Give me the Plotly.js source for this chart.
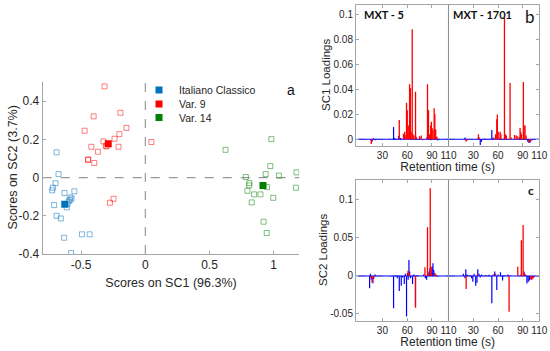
<!DOCTYPE html>
<html>
<head>
<meta charset="utf-8">
<script src="https://cdn.plot.ly/plotly-3.0.1.min.js"></script>
<style>html,body{margin:0;padding:0;background:#fff}#chart{width:550px;height:351px}</style>
</head>
<body>
<div id="chart"></div>
<script>
// ---------- Panel a: scores ----------
const groupNames = ['Italiano Classico', 'Var. 9', 'Var. 14'];
const icSC1 = [-0.692,-0.677,-0.700,-0.721,-0.726,-0.630,-0.553,-0.584,-0.589,-0.607,-0.612,-0.711,-0.692,-0.659,-0.633,-0.494,-0.434,-0.579,-0.598,-0.575];
const icSC2 = [0.132,0.018,-0.030,-0.053,-0.067,-0.081,-0.072,-0.104,-0.118,-0.139,-0.156,-0.144,-0.200,-0.214,-0.315,-0.297,-0.297,-0.395,-0.125,-0.110];
const v9SC1 = [-0.318,-0.403,-0.194,-0.473,-0.147,-0.202,-0.240,-0.326,-0.421,-0.370,-0.302,-0.209,-0.444,-0.447,-0.398,-0.248,-0.276,0.047,-0.308];
const v9SC2 = [0.477,0.320,0.339,0.245,0.260,0.227,0.203,0.189,0.161,0.135,0.163,0.161,0.095,0.092,0.076,-0.111,-0.132,0.186,0.166];
const v14SC1 = [0.982,0.625,0.974,0.938,1.041,1.178,0.783,0.811,0.809,0.948,1.173,0.796,0.848,0.897,0.829,0.997,0.922,0.946];
const v14SC2 = [0.201,0.145,0.060,0.018,0.010,0.027,0.003,-0.029,-0.041,-0.050,-0.053,-0.069,-0.088,-0.088,-0.130,-0.106,-0.231,-0.290];
const centroidSC1 = [-0.628, -0.289, 0.917];
const centroidSC2 = [-0.140, 0.177, -0.041];
const scoreXTicks = [-0.5, 0, 0.5, 1];
const scoreXLabels = ['-0.5', '0', '0.5', '1'];
const scoreYTicks = [-0.4, -0.2, 0, 0.2, 0.4];
const scoreYLabels = ['-0.4', '-0.2', '0', '0.2', '0.4'];

// ---------- Panels b, c: loadings (retention time s, loading) ----------
const columns = ['MXT - 5', 'MXT - 1701'];
const columnWindow = [0, 110];
// SC1, MXT-5
const sc1Mxt5BlueT = [16,17.5,19,21,38.5,43.5,45,49.8,52,57,61.5,75,84,88.5,95,97,99];
const sc1Mxt5BlueV = [-0.001,-0.002,0.0008,-0.0008,0.0005,0.0098,0.001,0.0028,0.001,0.0015,0.002,0.001,0.002,-0.0008,0.002,-0.001,0.0005];
const sc1Mxt5RedT = [16.5,18,50.4,55.5,57,58.5,59.2,60.1,61.3,62.9,63.8,64.8,66.1,67,68.2,70.1,71,75,77,79,84.6,85.8,87,88.5,89.3,90.2,91.2,92.7,93.5,94.5,96];
const sc1Mxt5RedV = [-0.0038,-0.001,0.0155,0.0045,0.006,0.0035,0.0292,0.0232,0.011,0.044,0.041,0.006,0.088,0.004,0.003,0.038,0.002,0.0025,0.003,-0.0008,0.044,0.0234,0.004,0.011,0.014,0.009,0.0075,0.0248,0.02,0.008,0.002];
// SC1, MXT-1701
const sc1Mxt1701BlueT = [20,22,36,38.5,40,44,52.5,54,62,70,86,96,97.5,99,101,104];
const sc1Mxt1701BlueV = [0.0015,-0.001,0.0015,-0.0045,-0.002,0.0005,0.0075,0.0015,0.001,0.001,0.0015,-0.002,-0.003,-0.0025,-0.001,0.0005];
const sc1Mxt1701RedT = [21.4,23,36.3,37.2,55,57,58.5,59.2,60.2,62.5,63.5,67.8,69,70,74.6,76,80,82,84,86.7,87.5,88.5,90.7,91.5,92.7,94,98,99.5];
const sc1Mxt1701RedV = [-0.002,-0.0008,0.004,0.0015,0.001,0.004,0.016,0.0198,0.006,0.006,0.0045,0.0973,0.004,0.003,0.045,0.0015,0.0035,0.003,0.0025,0.009,0.006,0.004,0.0458,0.011,0.011,0.003,-0.0025,-0.0015];
// SC2, MXT-5
const sc2Mxt5BlueT = [14.5,15.5,16.5,18.5,19.5,21,40,43.5,46,48,50.4,52.8,54.5,56.5,57.8,59.2,60.3,61.2,62.1,63,64,66.5,68,70,72,80,82,83.5,85,86.5,87.5,89,90.2,91.2,92.2,93.5,95,97];
const sc2Mxt5BlueV = [-0.016,0.003,-0.005,-0.0095,-0.004,0.002,-0.001,-0.0425,0.001,-0.003,-0.0197,-0.013,-0.002,-0.0105,0.003,-0.0535,0.004,-0.005,0.021,0.006,-0.003,-0.0105,0.002,-0.040,0.001,0.002,-0.003,-0.005,0.003,0.006,0.01,0.005,0.012,0.0167,0.008,0.004,0.001,-0.001];
const sc2Mxt5RedT = [16,17.5,18.8,61,62.5,70.1,81.5,84.6,85.5,87.9,89,93,95];
const sc2Mxt5RedV = [-0.002,-0.009,-0.003,0.007,0.004,-0.0417,0.0114,0.064,0.003,0.1154,0.012,0.004,0.002];
// SC2, MXT-1701
const sc2Mxt1701BlueT = [18,20,21,22.5,26,28,29.5,31,33,34.5,35.5,37,38.5,40,45,49,52.5,54,56,58.5,60,63,65.5,67,72,75,88,91.5,93,95,96.5,98,100,102,104];
const sc2Mxt1701BlueV = [0.003,-0.003,0.0088,0.002,0.001,-0.003,-0.0075,0.003,-0.013,-0.009,0.009,0.003,-0.002,0.002,0.001,0.0015,-0.036,0.002,0.006,-0.0184,0.002,0.005,-0.006,0.001,0.002,0.001,0.002,0.006,0.002,-0.01,-0.008,-0.006,-0.005,-0.003,-0.001];
const sc2Mxt1701RedT = [21.4,35,57,73.4,83.9,88.3,90.4,92,99,101,103];
const sc2Mxt1701RedV = [-0.017,0.002,0.003,-0.047,0.0123,0.047,0.067,0.004,-0.004,-0.005,-0.003];

const rtTicks = [30, 60, 90, 110, 140, 170, 200, 220];
const rtLabels = ['30', '60', '90', '110', '30', '60', '90', '110'];
const sc1Ticks = [0, 0.02, 0.04, 0.06, 0.08, 0.1];
const sc1Labels = ['0', '0.02', '0.04', '0.06', '0.08', '0.1'];
const sc2Ticks = [-0.05, 0, 0.05, 0.1];
const sc2Labels = ['-0.05', '0', '0.05', '0.1'];

// ---------- build ----------
const W = 550, H = 351;
const BLUE = '#0000ff', RED = '#ff0000';
const openCol = ['rgba(0,114,189,0.5)', 'rgba(255,0,0,0.5)', 'rgba(0,128,0,0.5)'];
const fillCol = ['#0072BD', '#FF0000', '#008000'];
const scoreSets = [[icSC1, icSC2], [v9SC1, v9SC2], [v14SC1, v14SC2]];
const legendIds = ['legend', 'legend2', 'legend3'];
const legendTops = [75.5, 89.5, 103];

const traces = [];
scoreSets.forEach((s, i) => {
  traces.push({type: 'scatter', mode: 'markers', x: s[0], y: s[1], xaxis: 'x', yaxis: 'y',
    showlegend: false, hoverinfo: 'skip',
    marker: {symbol: 'square-open', size: 5, color: openCol[i], line: {width: 1, color: openCol[i]}}});
});
groupNames.forEach((g, i) => {
  traces.push({type: 'scatter', mode: 'markers', name: g, x: [centroidSC1[i]], y: [centroidSC2[i]],
    xaxis: 'x', yaxis: 'y', legend: legendIds[i],
    marker: {symbol: 'square', size: 7, color: fillCol[i], line: {width: 0}}});
});

function stems(t, v, offset) {
  const x = [], y = [];
  t.forEach((ti, k) => { x.push(ti + offset, ti + offset, null); y.push(0, v[k], null); });
  return {x, y};
}
function loadingTraces(ax, ay, sets) {
  sets.forEach((set, c) => {
    const off = c * columnWindow[1];
    traces.push({type: 'scatter', mode: 'lines', x: [columnWindow[0] + off, columnWindow[1] + off], y: [0, 0],
      xaxis: ax, yaxis: ay, showlegend: false, hoverinfo: 'skip', line: {color: BLUE, width: 1}});
    const b = stems(set[0], set[1], off);
    traces.push({type: 'scatter', mode: 'lines', x: b.x, y: b.y, xaxis: ax, yaxis: ay, showlegend: false,
      hoverinfo: 'skip', connectgaps: false, line: {color: BLUE, width: 1.2}});
  });
  sets.forEach((set, c) => {
    const off = c * columnWindow[1];
    const r = stems(set[2], set[3], off);
    traces.push({type: 'scatter', mode: 'lines', x: r.x, y: r.y, xaxis: ax, yaxis: ay, showlegend: false,
      hoverinfo: 'skip', connectgaps: false, line: {color: RED, width: 1.3}});
  });
}
loadingTraces('x2', 'y2', [
  [sc1Mxt5BlueT, sc1Mxt5BlueV, sc1Mxt5RedT, sc1Mxt5RedV],
  [sc1Mxt1701BlueT, sc1Mxt1701BlueV, sc1Mxt1701RedT, sc1Mxt1701RedV]]);
loadingTraces('x3', 'y3', [
  [sc2Mxt5BlueT, sc2Mxt5BlueV, sc2Mxt5RedT, sc2Mxt5RedV],
  [sc2Mxt1701BlueT, sc2Mxt1701BlueV, sc2Mxt1701RedT, sc2Mxt1701RedV]]);

const LINE = '#a6a6a6', TXT = '#262626';
const FONT = 'Liberation Sans, Arial, sans-serif';
const LFONT = 'Lato, Liberation Sans, sans-serif';
const baseAx = {showgrid: false, zeroline: false, showline: true, linecolor: LINE, linewidth: 1,
  ticks: 'inside', ticklen: 3, tickcolor: LINE, tickmode: 'array', automargin: false, tickangle: 0,
  tickfont: {size: 12, color: TXT, family: FONT}};
const rAx = Object.assign({}, baseAx, {mirror: 'ticks', tickfont: {size: 10, color: TXT, family: FONT}});

function vTitle(text, x, y, size) {
  return {text: text, textangle: -90, xref: 'paper', yref: 'paper', x: x / W, y: 1 - y / H,
    xanchor: 'center', yanchor: 'middle', showarrow: false, font: {size: size, color: TXT, family: FONT}};
}

const layout = {
  width: W, height: H, margin: {l: 0, r: 0, t: 0, b: 0},
  paper_bgcolor: '#fff', plot_bgcolor: '#fff',
  font: {family: FONT, color: TXT},
  showlegend: true,
  xaxis: Object.assign({}, baseAx, {domain: [42.7 / W, 299.3 / W], range: [-0.8, 1.2], anchor: 'y',
    tickvals: scoreXTicks, ticktext: scoreXLabels,
    title: {text: 'Scores on SC1 (96.3%)', font: {size: 12.5, color: TXT}, standoff: 6}}),
  yaxis: Object.assign({}, baseAx, {domain: [1 - 254 / H, 1 - 82 / H], range: [-0.4, 0.5], anchor: 'x',
    tickvals: scoreYTicks, ticktext: scoreYLabels}),
  xaxis2: Object.assign({}, rAx, {domain: [356 / W, 539.3 / W], range: [-2, 220], anchor: 'y2',
    tickvals: rtTicks, ticktext: rtLabels,
    title: {text: 'Retention time (s)', font: {size: 12, color: TXT}, standoff: 2}}),
  yaxis2: Object.assign({}, rAx, {domain: [1 - 145.5 / H, 1 - 4.5 / H], range: [-0.0050, 0.1078], anchor: 'x2',
    tickvals: sc1Ticks, ticktext: sc1Labels}),
  xaxis3: Object.assign({}, rAx, {domain: [356 / W, 539.3 / W], range: [-2, 220], anchor: 'y3',
    tickvals: rtTicks, ticktext: rtLabels,
    title: {text: 'Retention time (s)', font: {size: 12, color: TXT}, standoff: 0}}),
  yaxis3: Object.assign({}, rAx, {domain: [1 - 320.5 / H, 1 - 180 / H], range: [-0.0586, 0.1263], anchor: 'x3',
    tickvals: sc2Ticks, ticktext: sc2Labels}),
  shapes: [
    {type: 'line', xref: 'x', yref: 'y domain', x0: 0, x1: 0, y0: 0, y1: 1, line: {color: '#999', width: 1.2, dash: 'dash'}, layer: 'below'},
    {type: 'line', xref: 'x domain', yref: 'y', x0: 0, x1: 1, y0: 0, y1: 0, line: {color: '#999', width: 1.2, dash: 'dash'}, layer: 'below'},
    {type: 'line', xref: 'x2 domain', yref: 'y2', x0: 0, x1: 1, y0: 0, y1: 0, line: {color: '#aaa', width: 1, dash: 'dash'}, layer: 'below'},
    {type: 'line', xref: 'x3 domain', yref: 'y3', x0: 0, x1: 1, y0: 0, y1: 0, line: {color: '#aaa', width: 1, dash: 'dash'}, layer: 'below'},
    {type: 'line', xref: 'x2', yref: 'y2 domain', x0: columnWindow[1], x1: columnWindow[1], y0: 0, y1: 1, line: {color: '#8c8c8c', width: 1}},
    {type: 'line', xref: 'x3', yref: 'y3 domain', x0: columnWindow[1], x1: columnWindow[1], y0: 0, y1: 1, line: {color: '#8c8c8c', width: 1}}
  ],
  annotations: [
    vTitle('Scores on SC2 (3.7%)', 12.5, 168, 12.5),
    vTitle('SC1 Loadings', 326, 75, 11.5),
    vTitle('SC2 Loadings', 323, 250, 11.5),
    {text: 'a', xref: 'paper', yref: 'paper', x: 291 / W, y: 1 - 90 / H, xanchor: 'center', yanchor: 'middle', showarrow: false, font: {size: 14, color: '#111', family: FONT}},
    {text: 'b', xref: 'paper', yref: 'paper', x: 530 / W, y: 1 - 16 / H, xanchor: 'center', yanchor: 'middle', showarrow: false, font: {size: 17, color: '#111', family: LFONT}},
    {text: '<b>c</b>', xref: 'paper', yref: 'paper', x: 531 / W, y: 1 - 190 / H, xanchor: 'center', yanchor: 'middle', showarrow: false, font: {size: 12, color: '#111', family: LFONT}},
    {text: '<b>' + columns[0] + '</b>', xref: 'paper', yref: 'paper', x: 362 / W, y: 1 - 14 / H, xanchor: 'left', yanchor: 'middle', showarrow: false, font: {size: 11, color: '#111', family: LFONT}},
    {text: '<b>' + columns[1] + '</b>', xref: 'paper', yref: 'paper', x: 451 / W, y: 1 - 14 / H, xanchor: 'left', yanchor: 'middle', showarrow: false, font: {size: 11, color: '#111', family: LFONT}}
  ]
};
legendIds.forEach((id, i) => {
  layout[id] = {x: 139 / W, y: 1 - legendTops[i] / H, xanchor: 'left', yanchor: 'top', bgcolor: 'rgba(0,0,0,0)',
    borderwidth: 0, font: {size: 10.5, color: TXT, family: FONT}};
});

Plotly.newPlot('chart', traces, layout, {staticPlot: true, displayModeBar: false});
</script>
</body>
</html>
